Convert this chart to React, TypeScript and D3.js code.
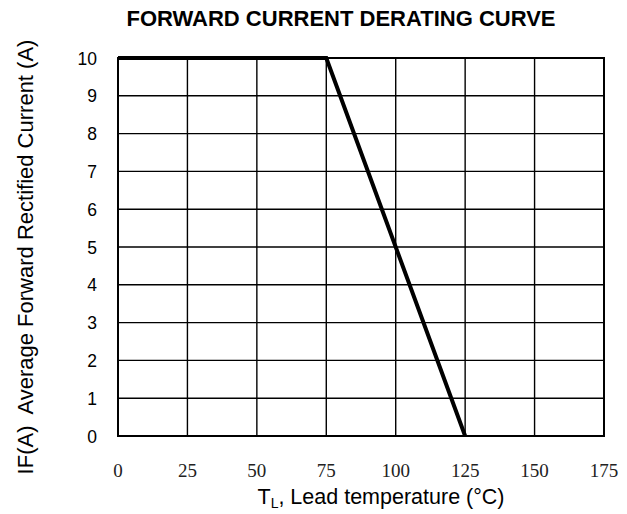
import { scaleLinear, line } from 'd3'

const xTicks = [0, 25, 50, 75, 100, 125, 150, 175]
const yTicks = [0, 1, 2, 3, 4, 5, 6, 7, 8, 9, 10]
const temps = [0, 75, 125]
const currents = [10, 10, 0]

export default function App() {
  const width = 627
  const height = 514
  const margin = { left: 118, right: 23, top: 58, bottom: 78 }

  const x = scaleLinear().domain([0, 175]).range([margin.left, width - margin.right])
  const y = scaleLinear().domain([0, 10]).range([height - margin.bottom, margin.top])

  const pts = temps.map((t, i) => [t, currents[i]] as [number, number])
  const path = line<[number, number]>()
    .x((d) => x(d[0]))
    .y((d) => y(d[1]))(pts)

  return (
    <svg width={width} height={height} style={{ position: 'absolute', left: 0, top: 0, background: '#fff' }}>
      <text x={341} y={26} textAnchor="middle" fontFamily="Liberation Sans, Arial" fontWeight="bold" fontSize={22}>
        FORWARD CURRENT DERATING CURVE
      </text>
      {/* grid */}
      {xTicks.map((t) => (
        <line key={'gx' + t} x1={x(t)} x2={x(t)} y1={y(0)} y2={y(10)} stroke="#000" strokeWidth={1.4} />
      ))}
      {yTicks.map((t) => (
        <line key={'gy' + t} x1={x(0)} x2={x(175)} y1={y(t)} y2={y(t)} stroke="#000" strokeWidth={1.4} />
      ))}
      <rect x={x(0)} y={y(10)} width={x(175) - x(0)} height={y(0) - y(10)} fill="none" stroke="#000" strokeWidth={2} />
      {/* y ticks */}
      {yTicks.map((t) => (
        <text key={'ty' + t} x={97} y={y(t) + 6.5} textAnchor="end" fontFamily="Liberation Sans, Arial" fontSize={17.5}>
          {t}
        </text>
      ))}
      {/* x ticks */}
      {xTicks.map((t) => (
        <text key={'tx' + t} x={x(t)} y={477} textAnchor="middle" fontFamily="Liberation Serif, Times New Roman" fontSize={19} fill="#222">
          {t}
        </text>
      ))}
      <path d={path ?? ''} fill="none" stroke="#000" strokeWidth={4} />
      <text x={381} y={504} textAnchor="middle" fontFamily="Liberation Sans, Arial" fontSize={21.5}>
        T<tspan fontSize={14} dy={4}>L</tspan>
        <tspan dy={-4}>, Lead temperature (°C)</tspan>
      </text>
      <text
        transform="translate(33,257) rotate(-90)"
        textAnchor="middle"
        fontFamily="Liberation Sans, Arial"
        fontSize={22}
        xmlSpace="preserve"
      >
        IF(A)  Average Forward Rectified Current (A)
      </text>
    </svg>
  )
}
